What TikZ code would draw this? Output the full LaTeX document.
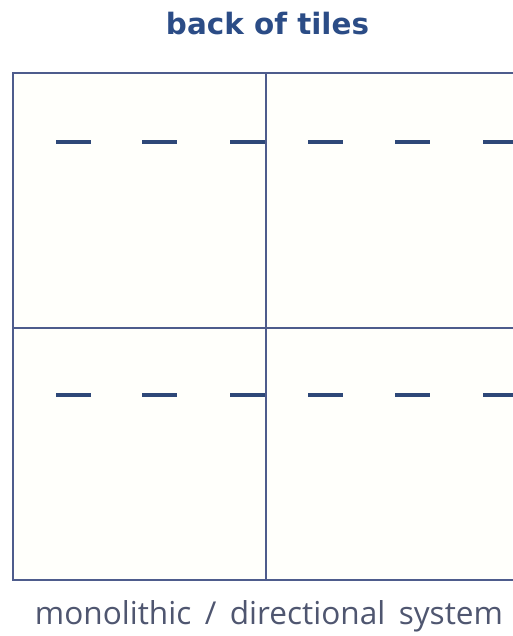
\documentclass[tikz,border=0pt]{standalone}
\usepackage{fontspec}
\setmainfont{Open Sans}
\newfontfamily\titlefont{DejaVu Sans}
\definecolor{titleblue}{HTML}{2B4C86}
\definecolor{gridline}{HTML}{4E5C8C}
\definecolor{dashblue}{HTML}{2E4878}
\definecolor{captiongray}{HTML}{4F5670}
\definecolor{tilefill}{HTML}{FFFFFB}
\tikzset{
  gridstroke/.style={draw=gridline, line width=1.8pt},
  tiledash/.style={draw=dashblue, line width=3.6pt},
}
\begin{document}
\begin{tikzpicture}[x=1pt,y=-1pt]
\useasboundingbox[fill=white] (0,0) rectangle (512,636);
% tile field
\fill[tilefill] (13,73) rectangle (512,580);
% dashes (back of tiles)
\foreach \yy in {142,395}{
  \foreach \xa/\xb in {56/91,142/177,230/266,308/343,395/430,483/513}{
    \draw[tiledash] (\xa,\yy) -- (\xb,\yy);
  }
}
% grid
\draw[gridstroke] (513,73) -- (13,73) -- (13,580) -- (513,580);
\draw[gridstroke] (266,73) -- (266,580);
\draw[gridstroke] (13,328) -- (513,328);
% labels
\node[text=titleblue, font=\titlefont\bfseries, inner sep=0pt, anchor=base] (title) at (267.5,35) {\resizebox{203pt}{!}{back of tiles}};
\node[text=captiongray, inner sep=0pt, anchor=base] (caption) at (269,624) {\resizebox{468pt}{!}{monolithic \,/\, directional\, system}};
\end{tikzpicture}
\end{document}
